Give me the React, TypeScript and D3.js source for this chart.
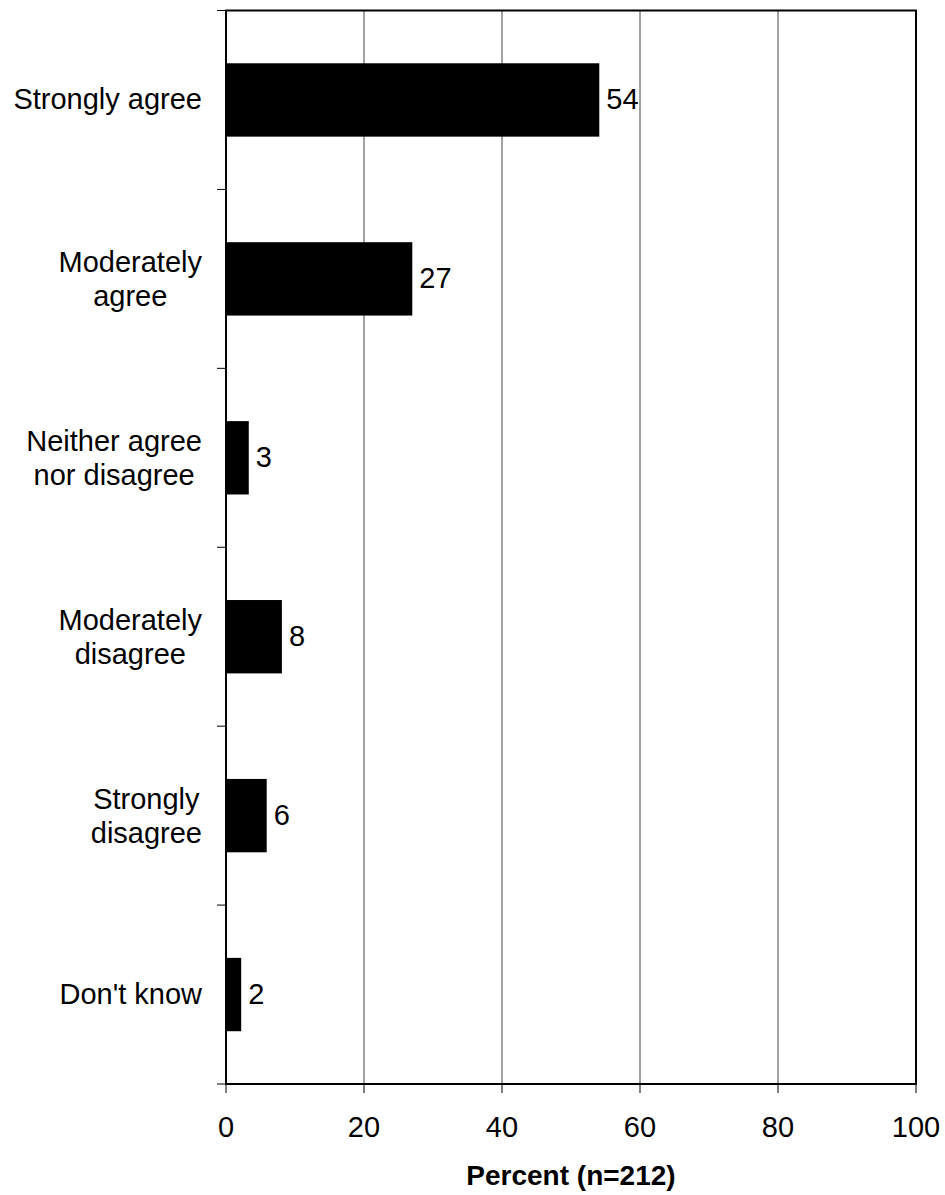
import React from "react";
import * as d3 from "d3";

const categories: string[][] = [
  ["Strongly agree"],
  ["Moderately", "agree"],
  ["Neither agree", "nor disagree"],
  ["Moderately", "disagree"],
  ["Strongly", "disagree"],
  ["Don't know"],
];
const values = [54.1, 27, 3.3, 8.1, 5.9, 2.2];
const valueLabels = ["54", "27", "3", "8", "6", "2"];
const xTicks = [0, 20, 40, 60, 80, 100];
const xTitle = "Percent (n=212)";

const FONT = "'Liberation Sans', Arial, sans-serif";
const FS = 29;

let ctx: CanvasRenderingContext2D | null = null;
function measure(s: string): number {
  if (!ctx) {
    const c = document.createElement("canvas");
    ctx = c.getContext("2d");
  }
  if (!ctx) return s.length * FS * 0.5;
  ctx.font = `${FS}px 'Liberation Sans', Arial, sans-serif`;
  return ctx.measureText(s).width;
}

export default function App() {
  const W = 945, H = 1195;
  const left = 226, right = 916, top = 10.5, bottom = 1084;
  const x = d3.scaleLinear().domain([0, 100]).range([left, right]);
  const y = d3.scaleBand<number>().domain(d3.range(categories.length)).range([top, bottom]).paddingInner(0.59).paddingOuter(0.295);
  const band = (bottom - top) / categories.length;
  const labelRight = 202;
  return (
    <svg width={W} height={H} style={{ position: "absolute", left: 0, top: 0 }} fontFamily={FONT}>
      {xTicks.slice(1, -1).map((t) => (
        <line key={t} x1={x(t)} x2={x(t)} y1={top} y2={bottom} stroke="#444" strokeWidth={1} />
      ))}
      {values.map((v, i) => (
        <rect key={i} x={x(0)} y={y(i)!} width={x(v) - x(0)} height={y.bandwidth()} fill="#000" />
      ))}
      <rect x={left} y={top} width={right - left} height={bottom - top} fill="none" stroke="#000" strokeWidth={2} />
      {d3.range(categories.length + 1).map((i) => (
        <line key={i} x1={left - 9} x2={left} y1={top + band * i} y2={top + band * i} stroke="#000" strokeWidth={1} />
      ))}
      {xTicks.map((t) => (
        <g key={t}>
          <line x1={x(t)} x2={x(t)} y1={bottom} y2={bottom + 9} stroke="#000" strokeWidth={1} />
          <text x={x(t)} y={1137} textAnchor="middle" fontSize={FS} fill="#000">{t}</text>
        </g>
      ))}
      {values.map((v, i) => (
        <text key={i} x={x(v) + 7} y={y(i)! + y.bandwidth() / 2 + 9} fontSize={FS} fill="#000">{valueLabels[i]}</text>
      ))}
      {categories.map((lines, i) => {
        const cy = top + band * (i + 0.5);
        const lh = 34;
        const start = lines.length === 1 ? cy + 9 : cy - 7 - ((lines.length - 2) * lh) / 2;
        const maxW = Math.max(...lines.map(measure));
        const cx = labelRight - maxW / 2;
        return (
          <text key={i} textAnchor="middle" fontSize={FS} fill="#000">
            {lines.map((l, j) => (
              <tspan key={j} x={cx} y={start + j * lh}>{l}</tspan>
            ))}
          </text>
        );
      })}
      <text x={(left + right) / 2} y={1185} textAnchor="middle" fontSize={28} fontWeight="bold" fill="#000">{xTitle}</text>
    </svg>
  );
}
